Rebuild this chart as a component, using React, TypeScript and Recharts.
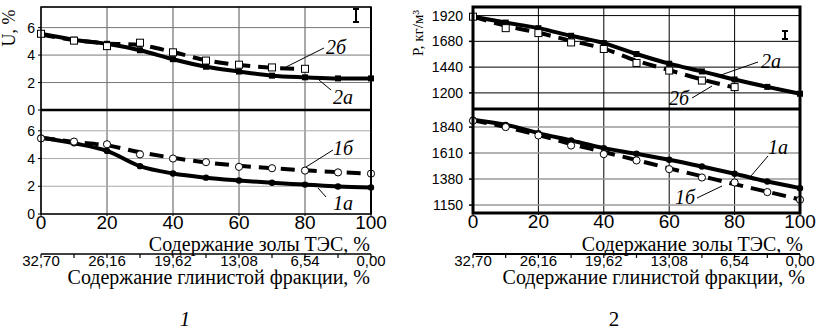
import React from 'react';
import { LineChart, Line, XAxis, YAxis, CartesianGrid } from 'recharts';

// ---------- data ----------
const ash = [0, 10, 20, 30, 40, 50, 60, 70, 80, 90, 100];
const ashTicks = [0, 20, 40, 60, 80, 100];
const clayTickValues = [0, 10, 20, 30, 40, 50, 60, 70, 80, 90, 100];
const clayLabels = ['32,70', '26,16', '19,62', '13,08', '6,54', '0,00'];

const uTicks = [0, 2, 4, 6];
const pTopTicks = [1200, 1440, 1680, 1920];
const pBottomTicks = [1150, 1380, 1610, 1840];

// Panel 1 top (U, curves 2a / 2б)
const u2aFit = [5.55, 5.12, 4.82, 4.35, 3.7, 3.15, 2.8, 2.5, 2.38, 2.3, 2.3];
const u2bFit = [5.5, 5.1, 4.85, 4.72, 4.22, 3.62, 3.28, 3.08, 2.98, null, null];
const u2bPts = [5.55, 5.05, 4.65, 4.9, 4.2, 3.6, 3.3, 3.1, 3.0, null, null];

// Panel 1 bottom (U, curves 1a / 1б)
const u1aFit = [5.5, 5.1, 4.55, 3.45, 2.92, 2.62, 2.42, 2.25, 2.12, 1.98, 1.92];
const u1bFit = [5.5, 5.2, 4.95, 4.45, 4.05, 3.72, 3.48, 3.3, 3.15, 3.02, 2.9];
const u1bPts = [5.45, 5.22, 5.03, 4.3, 4.0, 3.74, 3.4, 3.3, 3.13, 3.0, 2.91];

// Panel 2 top (P, curves 2a / 2б)
const p2aFit = [1910, 1855, 1803, 1732, 1664, 1562, 1472, 1400, 1325, 1256, 1192];
const p2bFit = [1910, 1825, 1760, 1685, 1612, 1500, 1412, 1325, 1250, null, null];
const p2bPts = [1910, 1803, 1757, 1670, 1609, 1479, 1408, 1315, 1254, null, null];

// Panel 2 bottom (P, curves 1a / 1б)
const p1aFit = [1905, 1860, 1787, 1721, 1654, 1604, 1551, 1491, 1427, 1358, 1300];
const p1bFit = [1900, 1840, 1770, 1690, 1620, 1548, 1475, 1405, 1335, 1268, 1200];
const p1bPts = [1896, 1840, 1766, 1677, 1601, 1545, 1468, 1394, 1350, 1265, 1197];

const build = (a: (number | null)[], b: (number | null)[], p: (number | null)[]) =>
  ash.map((x, i) => ({ x, a: a[i], b: b[i], p: p[i] }));

const u2Data = build(u2aFit, u2bFit, u2bPts);
const u1Data = build(u1aFit, u1bFit, u1bPts);
const p2Data = build(p2aFit, p2bFit, p2bPts);
const p1Data = build(p1aFit, p1bFit, p1bPts);

// ---------- styles ----------
const SANS = 'Liberation Sans, Arial, sans-serif';
const SERIF = 'Liberation Serif, Times New Roman, serif';

const openSquare = (props: any) => {
  const { cx, cy, value, index } = props;
  if (value == null || cx == null || cy == null) return <g key={`os${index}`} />;
  return <rect key={`os${index}`} x={cx - 3.5} y={cy - 3.5} width={7} height={7} fill="#fff" stroke="#000" strokeWidth={1} />;
};
const openCircle = (props: any) => {
  const { cx, cy, value, index } = props;
  if (value == null || cx == null || cy == null) return <g key={`oc${index}`} />;
  return <circle key={`oc${index}`} cx={cx} cy={cy} r={3.6} fill="#fff" stroke="#000" strokeWidth={1} />;
};
const filledSquare = (props: any) => {
  const { cx, cy, value, index } = props;
  if (value == null || cx == null || cy == null) return <g key={`fs${index}`} />;
  return <rect key={`fs${index}`} x={cx - 3} y={cy - 3} width={6} height={6} fill="#000" />;
};
const filledCircle = (props: any) => {
  const { cx, cy, value, index } = props;
  if (value == null || cx == null || cy == null) return <g key={`fc${index}`} />;
  return <circle key={`fc${index}`} cx={cx} cy={cy} r={3.2} fill="#000" />;
};

const yTick = { fontSize: 14, fill: '#000', fontFamily: SANS };
const xTick = { fontSize: 19, fill: '#000', fontFamily: SANS };

const ClayTick = (props: any) => {
  const { x, y, payload } = props;
  const v = Number(payload?.value);
  return (
    <g>
      <line x1={x} y1={y - 4} x2={x} y2={y} stroke="#000" strokeWidth={1.2} />
      {v % 20 === 0 ? (
        <text x={x} y={y + 8} textAnchor="middle" fontSize={15} fontFamily={SANS} fill="#000">
          {clayLabels[v / 20]}
        </text>
      ) : null}
    </g>
  );
};

export default function App() {
  const abs = (left: number, top: number): React.CSSProperties => ({ position: 'absolute', left, top });
  return (
    <div style={{ position: 'absolute', left: 0, top: 0, width: 822, height: 335, background: '#fff', overflow: 'hidden' }}>
      {/* ---------- Panel 1 top ---------- */}
      <div style={abs(0, 0)}>
        <LineChart width={400} height={122} data={u2Data} margin={{ top: 7, right: 29, bottom: 12, left: 0 }}>
          <CartesianGrid horizontal={false} stroke="#555" strokeWidth={1} />
          <CartesianGrid vertical={false} stroke="#777" strokeWidth={1} />
          <XAxis type="number" dataKey="x" domain={[0, 100]} ticks={ashTicks} hide />
          <YAxis type="number" domain={[0, 7.5]} ticks={uTicks} interval={0} width={41} tick={yTick} tickSize={3} tickMargin={3} axisLine={false} tickLine={{ stroke: '#000' }} />
          <Line type="monotone" dataKey="b" stroke="#000" strokeWidth={4} strokeDasharray="14 8" dot={false} isAnimationActive={false} />
          <Line type="monotone" dataKey="a" stroke="#000" strokeWidth={4} dot={filledSquare} isAnimationActive={false} />
          <Line type="monotone" dataKey="p" stroke="none" dot={openSquare} activeDot={false} isAnimationActive={false} />
        </LineChart>
      </div>
      {/* ---------- Panel 1 bottom + both x axes ---------- */}
      <div style={abs(0, 104)}>
        <LineChart width={400} height={180} data={u1Data} margin={{ top: 6, right: 29, bottom: 0, left: 0 }}>
          <CartesianGrid horizontal={false} stroke="#555" strokeWidth={1} />
          <CartesianGrid vertical={false} stroke="#aaa" strokeWidth={1} />
          <XAxis type="number" dataKey="x" domain={[0, 100]} ticks={ashTicks} interval={0} height={40} tick={xTick} tickSize={2} tickMargin={0} axisLine={false} tickLine={{ stroke: '#000' }} />
          <XAxis xAxisId="clay" type="number" dataKey="x" domain={[0, 100]} ticks={clayTickValues} interval={0} height={30}
            tick={<ClayTick />} tickSize={4} tickMargin={0} tickLine={false} axisLine={false} />
          <YAxis type="number" domain={[0, 7.5]} ticks={uTicks} interval={0} width={41} tick={yTick} tickSize={3} tickMargin={3} axisLine={false} tickLine={{ stroke: '#000' }} />
          <Line type="monotone" dataKey="b" stroke="#000" strokeWidth={4} strokeDasharray="14 8" dot={false} isAnimationActive={false} />
          <Line type="monotone" dataKey="a" stroke="#000" strokeWidth={4} dot={filledCircle} isAnimationActive={false} />
          <Line type="monotone" dataKey="p" stroke="none" dot={openCircle} activeDot={false} isAnimationActive={false} />
        </LineChart>
      </div>

      {/* ---------- Panel 2 top ---------- */}
      <div style={abs(410, 0)}>
        <LineChart width={412} height={122} data={p2Data} margin={{ top: 7, right: 22, bottom: 13, left: 0 }}>
          <CartesianGrid horizontal={false} stroke="#000" strokeWidth={1} />
          <CartesianGrid vertical={false} stroke="#000" strokeWidth={1} />
          <XAxis type="number" dataKey="x" domain={[0, 100]} ticks={ashTicks} hide />
          <YAxis type="number" domain={[1050, 2000]} ticks={pTopTicks} interval={0} width={63} tick={yTick} tickSize={4} tickMargin={6} axisLine={false} tickLine={{ stroke: '#000', strokeWidth: 1.5 }} />
          <Line type="monotone" dataKey="b" stroke="#000" strokeWidth={4} strokeDasharray="14 8" dot={false} isAnimationActive={false} />
          <Line type="monotone" dataKey="a" stroke="#000" strokeWidth={4} dot={filledSquare} isAnimationActive={false} />
          <Line type="monotone" dataKey="p" stroke="none" dot={openSquare} activeDot={false} isAnimationActive={false} />
        </LineChart>
      </div>
      {/* ---------- Panel 2 bottom + both x axes ---------- */}
      <div style={abs(410, 103)}>
        <LineChart width={412} height={181} data={p1Data} margin={{ top: 6, right: 22, bottom: 0, left: 0 }}>
          <CartesianGrid horizontal={false} stroke="#000" strokeWidth={1} />
          <CartesianGrid vertical={false} stroke="#999" strokeWidth={1.5} />
          <XAxis type="number" dataKey="x" domain={[0, 100]} ticks={ashTicks} interval={0} height={41} tick={xTick} tickSize={2} tickMargin={0} axisLine={false} tickLine={{ stroke: '#000' }} />
          <XAxis xAxisId="clay" type="number" dataKey="x" domain={[0, 100]} ticks={clayTickValues} interval={0} height={30}
            tick={<ClayTick />} tickSize={4} tickMargin={0} tickLine={false} axisLine={false} />
          <YAxis type="number" domain={[1080, 2000]} ticks={pBottomTicks} interval={0} width={63} tick={yTick} tickSize={4} tickMargin={6} axisLine={false} tickLine={{ stroke: '#000', strokeWidth: 1.5 }} />
          <Line type="monotone" dataKey="b" stroke="#000" strokeWidth={4} strokeDasharray="14 8" dot={false} isAnimationActive={false} />
          <Line type="monotone" dataKey="a" stroke="#000" strokeWidth={4} dot={filledCircle} isAnimationActive={false} />
          <Line type="monotone" dataKey="p" stroke="none" dot={openCircle} activeDot={false} isAnimationActive={false} />
        </LineChart>
      </div>

      {/* ---------- annotations / frames ---------- */}
      <svg width={822} height={335} style={{ position: 'absolute', left: 0, top: 0, pointerEvents: 'none' }}>
        {/* frames panel 1 */}
        <rect x={41} y={7} width={330} height={207} fill="none" stroke="#000" strokeWidth={1.5} />
        <line x1={41} y1={110} x2={371} y2={110} stroke="#000" strokeWidth={2.5} />
        <line x1={371} y1={7} x2={371} y2={214} stroke="#000" strokeWidth={2} />
        {/* frames panel 2 */}
        <rect x={473} y={7} width={327} height={206} fill="none" stroke="#000" strokeWidth={3} />
        <line x1={473} y1={109} x2={800} y2={109} stroke="#000" strokeWidth={3} />
        {/* secondary (clay) axis lines */}
        <line x1={41} y1={254} x2={371} y2={254} stroke="#000" strokeWidth={1.5} />
        <line x1={473} y1={254} x2={800} y2={254} stroke="#000" strokeWidth={2} />

        {/* axis titles */}
        <text transform="translate(15,28) rotate(-90)" textAnchor="middle" fontFamily={SERIF} fontSize={18}>U, %</text>
        <text transform="translate(423,33) rotate(-90)" textAnchor="middle" fontFamily={SERIF} fontSize={15}>P, кг/м³</text>

        <text x={370} y={251} textAnchor="end" fontFamily={SERIF} fontSize={20}>Содержание золы ТЭС, %</text>
        <text x={370} y={284} textAnchor="end" fontFamily={SERIF} fontSize={20}>Содержание глинистой фракции, %</text>
        <text x={803} y={251} textAnchor="end" fontFamily={SERIF} fontSize={20}>Содержание золы ТЭС, %</text>
        <text x={805} y={284} textAnchor="end" fontFamily={SERIF} fontSize={20}>Содержание глинистой фракции, %</text>

        <text x={185} y={326} textAnchor="middle" fontFamily={SERIF} fontSize={21} fontStyle="italic">1</text>
        <text x={614} y={326} textAnchor="middle" fontFamily={SERIF} fontSize={21}>2</text>

        {/* error bars */}
        <g stroke="#000" strokeWidth={2}>
          <line x1={356} y1={8} x2={356} y2={23} />
          <line x1={353} y1={9} x2={359} y2={9} />
          <line x1={353} y1={22} x2={359} y2={22} />
          <line x1={785} y1={30} x2={785} y2={40} />
          <line x1={782} y1={31} x2={788} y2={31} />
          <line x1={782} y1={39} x2={788} y2={39} />
        </g>

        {/* curve labels with leaders */}
        <g fontFamily={SERIF} fontSize={20} fontStyle="italic">
          <text x={336} y={54} textAnchor="middle">2б</text>
          <text x={343} y={104} textAnchor="middle">2а</text>
          <text x={343} y={155} textAnchor="middle">1б</text>
          <text x={343} y={210} textAnchor="middle">1а</text>
          <text x={771} y={68} textAnchor="middle">2а</text>
          <text x={679} y={105} textAnchor="middle">2б</text>
          <text x={778} y={154} textAnchor="middle">1а</text>
          <text x={685} y={204} textAnchor="middle">1б</text>
        </g>
        <g stroke="#000" strokeWidth={1}>
          <line x1={324} y1={48} x2={286} y2={67} />
          <line x1={331} y1={90} x2={319} y2={80} />
          <line x1={333} y1={150} x2={306} y2={167} />
          <line x1={326} y1={197} x2={318} y2={188} />
          <line x1={758} y1={62} x2={721} y2={75} />
          <line x1={692} y1={98} x2={712} y2={86} />
          <line x1={768} y1={156} x2={751} y2={176} />
          <line x1={697} y1={198} x2={722} y2={186} />
        </g>
      </svg>
    </div>
  );
}
